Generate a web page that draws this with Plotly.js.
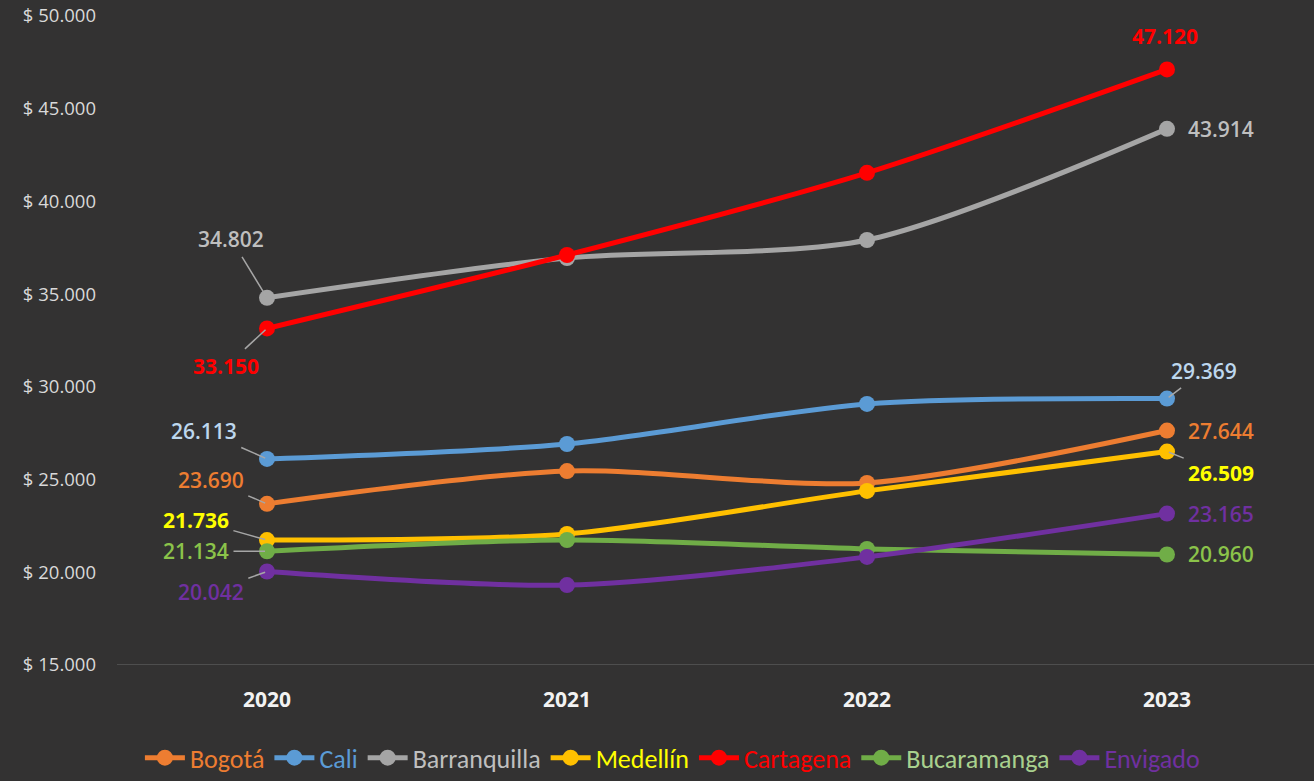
<!DOCTYPE html>
<html>
<head>
<meta charset="utf-8">
<script src="https://cdn.plot.ly/plotly-3.0.1.min.js"></script>
<style>html,body{margin:0;padding:0;background:#333232;}#chart{width:1314px;height:781px;}</style>
</head>
<body>
<div id="chart"></div>
<script>
// ---- data ----
const years = ['2020', '2021', '2022', '2023'];
const cities = ['Bogotá', 'Cali', 'Barranquilla', 'Medellín', 'Cartagena', 'Bucaramanga', 'Envigado'];
const bogota       = [23690, 25460, 24820, 27644];
const cali         = [26113, 26920, 29080, 29369];
const barranquilla = [34802, 36950, 37920, 43914];
const medellin     = [21736, 22070, 24390, 26509];
const cartagena    = [33150, 37110, 41540, 47120];
const bucaramanga  = [21134, 21740, 21260, 20960];
const envigado     = [20042, 19310, 20830, 23165];
const yTickVals  = [15000, 20000, 25000, 30000, 35000, 40000, 45000, 50000];
const yTickText  = ['$ 15.000', '$ 20.000', '$ 25.000', '$ 30.000', '$ 35.000', '$ 40.000', '$ 45.000', '$ 50.000'];
const labeledYears = ['2020', '2023'];

// ---- styles ----
const series = [bogota, cali, barranquilla, medellin, cartagena, bucaramanga, envigado];
const lineColors  = ['#ED7D31', '#5B9BD5', '#A5A5A5', '#FFC000', '#FF0000', '#70AD47', '#7030A0'];
const legendColors = ['#ED7D31', '#5B9BD5', '#BFBFBF', '#FFFF00', '#FF0000', '#A9D18E', '#7030A0'];
const labelColors = ['#ED7D31', '#BDD7EE', '#BFBFBF', '#FFFF00', '#FF0000', '#8BC34A', '#7030A0'];
const labelBold   = [false, false, false, true, true, false, false];
// label placement per city: [2020 placement, 2023 placement] -> {ax, ay, arrow}
const placement = [
  [{ax:-56, ay:-24, arrow:true}, {ax:54, ay:0, arrow:false}],
  [{ax:-63, ay:-28, arrow:true}, {ax:37, ay:-28, arrow:true}],
  [{ax:-36, ay:-59, arrow:true}, {ax:54, ay:0, arrow:false}],
  [{ax:-71, ay:-20, arrow:true}, {ax:54, ay:21, arrow:true}],
  [{ax:-41, ay:38, arrow:true},  {ax:-2, ay:-33, arrow:false}],
  [{ax:-71, ay:0, arrow:true},   {ax:54, ay:0, arrow:false}],
  [{ax:-56, ay:20, arrow:true},  {ax:54, ay:0, arrow:false}]
];

function fmt(v) {
  return String(v).replace(/\B(?=(\d{3})+(?!\d))/g, '.');
}

const traces = cities.map((c, i) => ({
  type: 'scatter',
  mode: 'lines+markers',
  x: years,
  y: series[i],
  name: '<span style="color:' + legendColors[i] + '">' + c + '</span>',
  line: {color: lineColors[i], width: 5, shape: 'spline', smoothing: 0.8},
  marker: {color: lineColors[i], size: 16},
  hoverinfo: 'x+y'
}));

const annotations = [];
cities.forEach((c, i) => {
  labeledYears.forEach((yr, k) => {
    const idx = years.indexOf(yr);
    const p = placement[i][k];
    const v = series[i][idx];
    const a = {
      x: idx, y: v, xref: 'x', yref: 'y',
      text: fmt(v),
      font: {family: 'Open Sans, DejaVu Sans, sans-serif', size: 21, color: labelColors[i], weight: labelBold[i] ? 700 : 600}
    };
    if (p.arrow) {
      Object.assign(a, {showarrow: true, ax: p.ax, ay: p.ay, arrowhead: 0, arrowwidth: 1.5, arrowcolor: '#A6A6A6', standoff: 2, startstandoff: 3});
    } else {
      Object.assign(a, {showarrow: false, xshift: p.ax, yshift: -p.ay});
    }
    annotations.push(a);
  });
});

const layout = {
  width: 1314, height: 781,
  paper_bgcolor: '#333232', plot_bgcolor: '#333232',
  margin: {l: 117, r: 0, t: 16, b: 116, autoexpand: false},
  showlegend: true,
  legend: {
    orientation: 'h', x: 0.464, xanchor: 'center', y: -0.143, yanchor: 'middle',
    font: {family: 'Liberation Sans Narrow, Carlito, Noto Sans, sans-serif', size: 26},
    itemwidth: 40, tracegroupgap: 0
  },
  xaxis: {
    type: 'category', range: [-0.5, 3.49], automargin: false,
    showgrid: false, zeroline: false, showline: false, ticks: '',
    tickfont: {family: 'Open Sans, DejaVu Sans, sans-serif', size: 21, color: '#F2F2F2', weight: 700},
    ticklabelstandoff: 20
  },
  yaxis: {
    range: [15000, 50000], tickvals: yTickVals, ticktext: yTickText, automargin: false,
    showgrid: false, zeroline: false, showline: false, ticks: '',
    tickfont: {family: 'Open Sans, DejaVu Sans, sans-serif', size: 18.5, color: '#D9D9D9'},
    ticklabelstandoff: 20
  },
  shapes: [{type: 'line', xref: 'paper', yref: 'y', x0: 0, x1: 1, y0: 15000, y1: 15000, line: {color: '#595959', width: 1.5}}],
  annotations: annotations
};

Plotly.newPlot('chart', traces, layout, {displayModeBar: false, staticPlot: true});
</script>
</body>
</html>
